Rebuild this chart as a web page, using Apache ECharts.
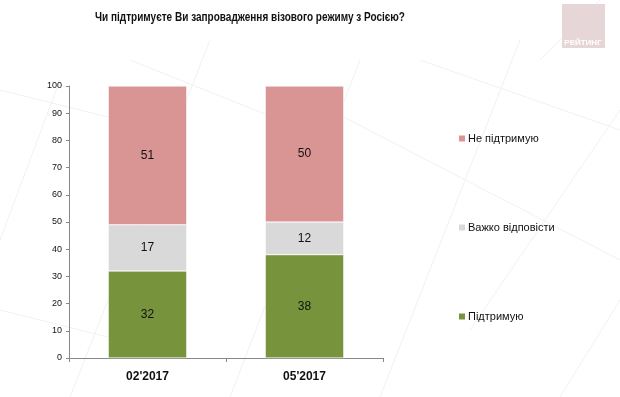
<!DOCTYPE html>
<html>
<head>
<meta charset="utf-8">
<script src="https://cdn.jsdelivr.net/npm/echarts@6/dist/echarts.min.js"></script>
<style>
  html, body { margin: 0; padding: 0; background: #fff; }
  #main { width: 620px; height: 397px; }
</style>
</head>
<body>
<div id="main"></div>
<script>
const categories = ["02'2017", "05'2017"];
const support = [32, 38];
const hardToSay = [17, 12];
const notSupport = [51, 50];
const yTicks = [0, 10, 20, 30, 40, 50, 60, 70, 80, 90, 100];

const FONT = 'Liberation Sans';
const chart = echarts.init(document.getElementById('main'));

// faint diagonal decoration lines in the background
const deco = [
  [0, 240, 60, 80], [70, 397, 210, 40], [230, 397, 360, 60], [380, 397, 520, 40],
  [470, 330, 620, 110], [560, 397, 620, 300], [540, 60, 600, 0],
  [0, 90, 160, 130], [130, 60, 330, 140], [330, 110, 620, 260], [420, 60, 620, 130],
  [0, 310, 120, 340]
].map(function (p) {
  return {
    type: 'line', z: -10, silent: true,
    shape: { x1: p[0], y1: p[1], x2: p[2], y2: p[3] },
    style: { stroke: '#f1f1f1', lineWidth: 1 }
  };
});

function legendAt(name, top) {
  return {
    data: [name], left: 452, top: top, orient: 'vertical',
    itemWidth: 8, itemHeight: 8, itemGap: 4, icon: 'rect',
    selectedMode: false,
    textStyle: { fontFamily: FONT, fontSize: 11, color: '#111', padding: [0, 0, 0, -3] }
  };
}

const label = {
  show: true, position: 'inside',
  fontFamily: FONT, fontSize: 12, color: '#111'
};

chart.setOption({
  animation: false,
  graphic: deco.concat([
    { type: 'text', x: 250, y: 17, scaleX: 0.77, z: 10,
      style: { text: 'Чи підтримуєте Ви запровадження візового режиму з Росією?', fill: '#111',
               font: 'bold 13px Liberation Sans', align: 'center', verticalAlign: 'middle' } },
    { type: 'rect', shape: { x: 562, y: 4, width: 43, height: 44 }, style: { fill: '#e7d6d7' }, z: 5 },
    { type: 'text', x: 583, y: 47, style: { text: 'РЕЙТИНГ', fill: '#fff', font: 'bold 8px Liberation Sans', align: 'center', verticalAlign: 'bottom' }, z: 6 }
  ]),
  legend: [
    legendAt('Не підтримую', 128),
    legendAt('Важко відповісти', 217),
    legendAt('Підтримую', 306)
  ],
  grid: { left: 69, top: 86, width: 314, height: 272 },
  xAxis: {
    type: 'category', data: categories,
    axisLine: { lineStyle: { color: '#888' } },
    axisTick: { show: true, length: 4, lineStyle: { color: '#888' } },
    axisLabel: { fontFamily: FONT, fontSize: 12, fontWeight: 'bold', color: '#111', margin: 13 }
  },
  yAxis: {
    type: 'value', min: 0, max: 100, interval: 10,
    axisLine: { show: true, lineStyle: { color: '#888' } },
    axisTick: { show: true, length: 3, lineStyle: { color: '#888' } },
    splitLine: { show: false },
    axisLabel: {
      fontFamily: FONT, fontSize: 9, color: '#111', margin: 7,
      formatter: function (v) { return yTicks.indexOf(v) >= 0 ? String(v) : ''; }
    }
  },
  series: [
    { name: 'Підтримую', type: 'bar', stack: 'a', data: support, barWidth: '50%',
      itemStyle: { color: '#77933c', borderColor: '#fff', borderWidth: 0.5 }, label: label },
    { name: 'Важко відповісти', type: 'bar', stack: 'a', data: hardToSay,
      itemStyle: { color: '#d9d9d9', borderColor: '#fff', borderWidth: 0.5 }, label: label },
    { name: 'Не підтримую', type: 'bar', stack: 'a', data: notSupport,
      itemStyle: { color: '#d99594', borderColor: '#fff', borderWidth: 0.5 }, label: label }
  ]
});
</script>
</body>
</html>
